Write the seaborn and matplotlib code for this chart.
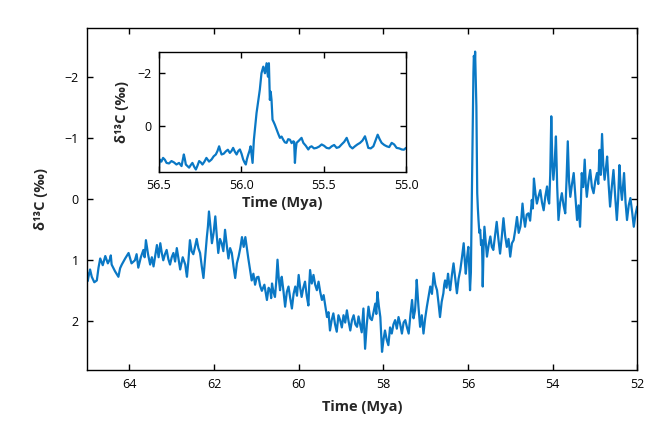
import numpy as np
import pandas as pd
import matplotlib
matplotlib.use("Agg")
import matplotlib.pyplot as plt
import seaborn as sns

# === Main record (age in Mya, d13C in permil) ===
age_main = [
    65.00, 64.97, 64.89, 64.77, 64.69, 64.57, 64.46, 64.42, 64.26, 64.18,
    64.02, 63.87, 63.79, 63.67, 63.61, 63.51, 63.43, 63.35, 63.27, 63.20,
    63.12, 63.04, 62.96, 62.88, 62.80, 62.68, 62.64, 62.57, 62.49, 62.41,
    62.33, 62.25, 62.17, 62.12, 62.05, 61.97, 61.90, 61.82, 61.74, 61.66,
    61.58, 61.50, 61.42, 61.34, 61.26, 61.19, 61.11, 61.03, 60.95, 60.87,
    60.75, 60.67, 60.63, 60.56, 60.50, 60.44, 60.40, 60.32, 60.24, 60.16,
    60.08, 60.00, 59.93, 59.85, 59.77, 59.73, 59.65, 59.57, 59.49, 59.41,
    59.33, 59.26, 59.18, 59.10, 59.02, 58.94, 58.86, 58.78, 58.70, 58.62,
    58.55, 58.47, 58.43, 58.35, 58.27, 58.19, 58.14, 58.07, 58.03, 57.96,
    57.88, 57.80, 57.72, 57.64, 57.56, 57.48, 57.40, 57.32, 57.25, 57.21,
    57.13, 57.05, 56.97, 56.89, 56.81, 56.73, 56.66, 56.58, 56.54, 56.47,
    56.42, 56.34, 56.26, 56.18, 56.10, 56.05, 55.99, 55.95, 55.91, 55.87,
    55.85, 55.83, 55.80, 55.78, 55.75, 55.71, 55.67, 55.65, 55.61, 55.55,
    55.47, 55.40, 55.32, 55.24, 55.16, 55.08, 55.00, 54.92, 54.84, 54.76,
    54.71, 54.65, 54.57, 54.49, 54.44, 54.37, 54.29, 54.21, 54.13, 54.08,
    54.03, 53.98, 53.92, 53.86, 53.78, 53.70, 53.64, 53.58, 53.50, 53.42,
    53.35, 53.31, 53.24, 53.19, 53.11, 53.03, 52.95, 52.89, 52.83, 52.77,
    52.71, 52.64, 52.56, 52.48, 52.42, 52.36, 52.31, 52.24, 52.16, 52.08,
    52.00,
]
d13c_main = [
    1.20, 1.28, 1.27, 1.33, 0.97, 0.93, 0.98, 1.07, 1.27, 1.07,
    0.88, 1.00, 1.12, 0.83, 0.67, 1.07, 1.10, 0.75, 0.72, 1.00,
    0.83, 1.07, 0.88, 0.80, 1.15, 1.07, 1.27, 0.67, 0.90, 0.65,
    0.88, 1.29, 0.62, 0.20, 0.72, 0.28, 0.88, 0.72, 0.50, 0.97,
    0.88, 1.29, 0.94, 0.62, 0.62, 0.97, 1.33, 1.40, 1.27, 1.50,
    1.65, 1.50, 1.38, 1.60, 0.99, 1.49, 1.27, 1.76, 1.43, 1.79,
    1.43, 1.24, 1.60, 1.35, 1.74, 1.16, 1.24, 1.49, 1.52, 1.57,
    1.93, 2.15, 1.87, 2.17, 1.98, 1.90, 1.82, 2.15, 1.90, 2.09,
    2.04, 1.79, 2.45, 1.76, 1.98, 1.71, 1.52, 1.93, 2.50, 2.15,
    2.39, 2.20, 1.98, 1.93, 2.20, 1.98, 2.20, 1.65, 1.82, 1.32,
    2.09, 2.20, 1.76, 1.43, 1.21, 1.49, 1.93, 1.54, 1.33, 1.22,
    1.49, 1.05, 1.54, 1.16, 0.72, 1.22, 0.78, 1.49, 0.12, -2.07,
    -2.30, -2.42, -1.52, -0.10, 0.34, 0.50, 0.67, 1.43, 0.45, 0.94,
    0.61, 0.83, 0.37, 0.89, 0.31, 0.78, 0.94, 0.67, 0.29, 0.45,
    0.07, 0.45, 0.23, 0.01, -0.34, 0.07, -0.15, 0.18, -0.21, 0.07,
    -1.36, -0.32, -1.03, 0.34, -0.10, 0.23, -0.95, -0.04, -0.43, 0.34,
    0.45, -0.43, -0.65, -0.04, -0.48, -0.10, -0.43, -0.81, -1.07, -0.32,
    -0.70, 0.12, -0.48, 0.34, -0.56, 0.01, -0.43, 0.34, -0.02, 0.45,
    0.12,
]

# fine-scale wiggle between the traced points (also)
age_fine = [
    64.985, 64.93, 64.83, 64.73, 64.63, 64.51, 64.44, 64.34, 64.22, 64.10,
    63.95, 63.83, 63.73, 63.64, 63.56, 63.47, 63.39, 63.31, 63.235, 63.16,
    63.08, 63.00, 62.92, 62.84, 62.74, 62.66, 62.605, 62.53, 62.45, 62.37,
    62.29, 62.21, 62.145, 62.085, 62.01, 61.935, 61.86, 61.78, 61.70, 61.62,
    61.54, 61.46, 61.38, 61.30, 61.225, 61.15, 61.07, 60.99, 60.91, 60.81,
    60.71, 60.65, 60.595, 60.53, 60.47, 60.42, 60.36, 60.28, 60.20, 60.12,
    60.04, 59.965, 59.89, 59.81, 59.75, 59.69, 59.61, 59.53, 59.45, 59.37,
    59.295, 59.22, 59.14, 59.06, 58.98, 58.90, 58.82, 58.74, 58.66, 58.585,
    58.51, 58.45, 58.39, 58.31, 58.23, 58.165, 58.105, 58.05, 57.995, 57.92,
    57.84, 57.76, 57.68, 57.60, 57.52, 57.44, 57.36, 57.285, 57.23, 57.17,
    57.09, 57.01, 56.93, 56.85, 56.77, 56.695, 56.62, 56.56, 56.505, 56.445,
    56.38, 56.30, 56.22, 56.14, 56.075, 56.02, 55.97, 55.93, 55.86, 55.84,
    55.765, 55.73, 55.69, 55.66, 55.63, 55.58, 55.51, 55.435, 55.36, 55.28,
    55.20, 55.12, 55.04, 54.96, 54.88, 54.80, 54.735, 54.68, 54.61, 54.53,
    54.465, 54.405, 54.33, 54.25, 54.17, 54.105, 54.055, 54.005, 53.95, 53.89,
    53.82, 53.74, 53.67, 53.61, 53.54, 53.46, 53.385, 53.33, 53.275, 53.215,
    53.15, 53.07, 52.99, 52.92, 52.86, 52.80, 52.74, 52.675, 52.60, 52.52,
    52.45, 52.39, 52.335, 52.275, 52.20, 52.12, 52.04,
]
d13c_fine = [
    1.34, 1.15, 1.36, 1.12, 1.08, 1.05, 0.92, 1.18, 1.13, 0.97,
    1.05, 0.90, 0.95, 0.95, 0.90, 0.95, 0.92, 0.95, 0.88, 0.90,
    0.98, 0.95, 1.02, 0.98, 0.95, 1.18, 1.00, 0.85, 0.78, 0.80,
    1.10, 0.95, 0.45, 0.45, 0.55, 0.60, 0.65, 0.85, 0.75, 0.80,
    1.10, 1.05, 0.80, 0.78, 0.80, 1.15, 1.22, 1.28, 1.42, 1.40,
    1.45, 1.62, 1.52, 1.35, 1.30, 1.35, 1.50, 1.52, 1.62, 1.55,
    1.58, 1.45, 1.45, 1.58, 1.40, 1.38, 1.40, 1.35, 1.65, 1.75,
    1.85, 1.98, 2.05, 1.90, 2.10, 2.02, 2.00, 1.98, 2.05, 1.92,
    2.18, 2.10, 2.05, 1.95, 1.85, 1.88, 1.75, 2.20, 2.30, 2.30,
    2.10, 2.05, 2.12, 2.05, 2.02, 2.10, 1.90, 1.95, 1.60, 1.75,
    1.90, 1.95, 1.60, 1.55, 1.40, 1.70, 1.68, 1.40, 1.45, 1.38,
    1.25, 1.30, 1.30, 0.95, 1.00, 0.95, 1.10, 1.20, -2.35, -2.20,
    0.15, 0.55, 0.75, 0.95, 0.80, 0.70, 0.75, 0.78, 0.60, 0.65,
    0.62, 0.60, 0.65, 0.72, 0.50, 0.55, 0.30, 0.30, 0.25, 0.35,
    0.15, -0.10, -0.05, 0.05, -0.05, 0.00, -0.40, -0.60, -0.60, -0.20,
    0.05, 0.10, -0.30, -0.30, -0.25, -0.05, 0.10, 0.05, -0.20, -0.25,
    -0.30, -0.20, -0.30, -0.25, -0.40, -0.55, -0.50, -0.25, -0.20, -0.05,
    0.00, -0.20, -0.20, 0.05, 0.10, 0.20, 0.25,
]

# === Inset: PETM close-up ===
age_inset = [
    56.500, 56.494, 56.474, 56.453, 56.423, 56.393, 56.362, 56.348, 56.336, 56.316,
    56.296, 56.275, 56.255, 56.235, 56.211, 56.180, 56.154, 56.134, 56.119, 56.093,
    56.069, 56.049, 56.028, 56.008, 55.988, 55.972, 55.957, 55.943, 55.931, 55.923,
    55.907, 55.887, 55.877, 55.866, 55.856, 55.846, 55.838, 55.832, 55.826, 55.816,
    55.810, 55.796, 55.785, 55.765, 55.745, 55.725, 55.704, 55.684, 55.674, 55.664,
    55.634, 55.623, 55.593, 55.573, 55.543, 55.512, 55.482, 55.451, 55.421, 55.391,
    55.360, 55.340, 55.310, 55.279, 55.249, 55.229, 55.198, 55.172, 55.148, 55.117,
    55.087, 55.057, 55.026, 55.000,
]
d13c_inset = [
    1.65, 1.27, 1.21, 1.40, 1.33, 1.46, 1.52, 1.08, 1.46, 1.58,
    1.40, 1.65, 1.33, 1.46, 1.21, 1.27, 1.08, 0.77, 1.08, 0.96,
    1.02, 0.83, 1.08, 0.89, 1.27, 1.46, 1.08, 0.77, 1.40, 0.52,
    -0.49, -1.38, -2.00, -2.25, -2.00, -2.38, -1.87, -2.38, -0.99, -0.99,
    -0.24, -0.05, 0.14, 0.45, 0.52, 0.64, 0.52, 0.58, 1.40, 0.64,
    0.45, 0.64, 0.89, 0.77, 0.83, 0.70, 0.83, 0.77, 0.83, 0.70,
    0.45, 0.77, 0.77, 0.64, 0.39, 0.83, 0.77, 0.33, 0.64, 0.77,
    0.64, 0.83, 0.89, 0.83,
]
age_inset_fine = [
    56.497, 56.484, 56.463, 56.438, 56.408, 56.377, 56.355, 56.342, 56.326, 56.306,
    56.285, 56.265, 56.245, 56.223, 56.195, 56.167, 56.144, 56.126, 56.106, 56.081,
    56.059, 56.038, 56.018, 55.998, 55.980, 55.965, 55.950, 55.937, 55.821, 55.803,
    55.790, 55.775, 55.755, 55.735, 55.715, 55.694, 55.679, 55.669, 55.649, 55.628,
    55.608, 55.583, 55.558, 55.527, 55.497, 55.466, 55.436, 55.406, 55.375, 55.350,
    55.325, 55.295, 55.264, 55.239, 55.214, 55.185, 55.160, 55.132, 55.102, 55.072,
    55.041, 55.013,
]
d13c_inset_fine = [
    1.45, 1.35, 1.28, 1.42, 1.38, 1.40, 1.30, 1.25, 1.52, 1.48,
    1.55, 1.50, 1.38, 1.35, 1.35, 1.15, 0.95, 0.95, 1.05, 0.90,
    0.95, 0.98, 0.95, 1.05, 1.38, 1.25, 0.95, 1.10, -1.30, -0.15,
    0.05, 0.30, 0.40, 0.62, 0.50, 0.65, 0.60, 0.90, 0.55, 0.55,
    0.75, 0.80, 0.85, 0.78, 0.75, 0.85, 0.72, 0.80, 0.60, 0.62,
    0.85, 0.70, 0.55, 0.60, 0.85, 0.55, 0.50, 0.72, 0.80, 0.70,
    0.85, 0.90,
]

main_df = pd.concat([
    pd.DataFrame({"age": age_main, "d13c": d13c_main}),
    pd.DataFrame({"age": age_fine, "d13c": d13c_fine}),
]).sort_values("age", ascending=False)
inset_df = pd.concat([
    pd.DataFrame({"age": age_inset, "d13c": d13c_inset}),
    pd.DataFrame({"age": age_inset_fine, "d13c": d13c_inset_fine}),
]).sort_values("age", ascending=False)

line_color = "#0a78c5"

sns.set_style("ticks")
plt.rcParams["font.family"] = ["Open Sans", "DejaVu Sans"]

fig = plt.figure(figsize=(6.7, 4.24), dpi=100)

# === Main axes ===
ax = fig.add_axes([0.130, 0.127, 0.821, 0.806])
sns.lineplot(data=main_df, x="age", y="d13c", ax=ax, color=line_color,
             linewidth=1.6, estimator=None, sort=False)
ax.set_xlim(65, 52)
ax.set_ylim(2.8, -2.8)
ax.set_xticks([64, 62, 60, 58, 56, 54, 52])
ax.set_yticks([-2, -1, 0, 1, 2])
ax.set_yticklabels(["\u22122", "\u22121", "0", "1", "2"])
ax.tick_params(direction="in", length=4, width=1, labelsize=9,
               top=True, right=True, colors="black", pad=6)
ax.set_xlabel("Time (Mya)", fontsize=10.5, fontweight="bold", labelpad=6)
ax.set_ylabel("\u03b4\u00b9\u00b3C (\u2030)", fontsize=10.5, fontweight="bold", labelpad=12)
for sp in ax.spines.values():
    sp.set_linewidth(1.0)
    sp.set_color("black")

# === Inset axes ===
axi = fig.add_axes([0.237, 0.594, 0.369, 0.283])
sns.lineplot(data=inset_df, x="age", y="d13c", ax=axi, color=line_color,
             linewidth=1.6, estimator=None, sort=False)
axi.set_xlim(56.5, 55.0)
axi.set_ylim(1.75, -2.8)
axi.set_xticks([56.5, 56.0, 55.5, 55.0])
axi.set_xticklabels(["56.5", "56.0", "55.5", "55.0"])
axi.set_yticks([-2, 0])
axi.set_yticklabels(["\u22122", "0"])
axi.tick_params(direction="in", length=4, width=1, labelsize=9,
                top=True, right=True, colors="black", pad=5)
axi.set_xlabel("Time (Mya)", fontsize=10.5, fontweight="bold", labelpad=3)
axi.set_ylabel("\u03b4\u00b9\u00b3C (\u2030)", fontsize=10.5, fontweight="bold", labelpad=6)
for sp in axi.spines.values():
    sp.set_linewidth(1.0)
    sp.set_color("black")

fig.savefig("out.png", dpi=100)
